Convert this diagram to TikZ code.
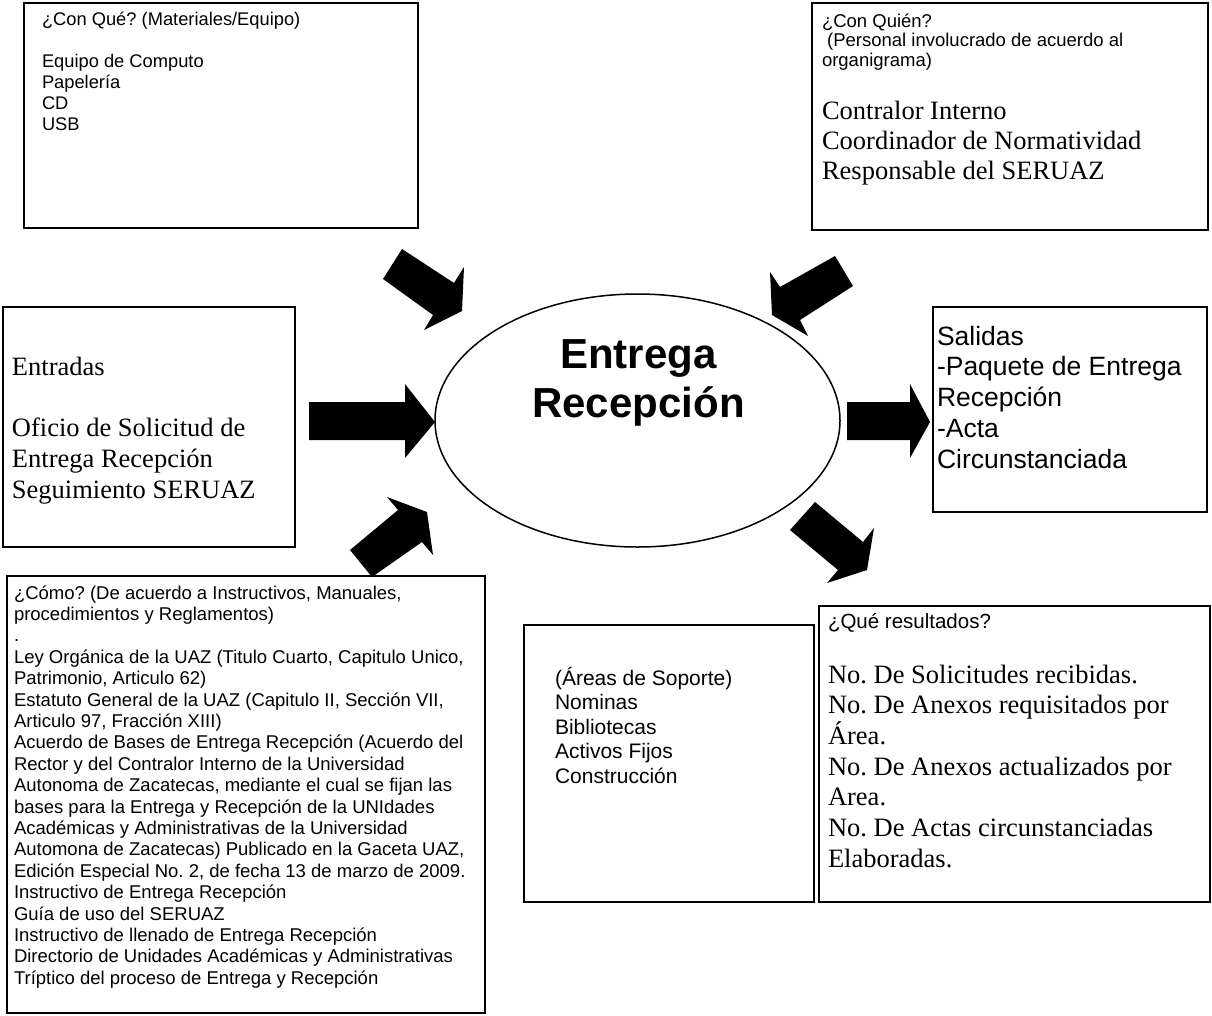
\documentclass[tikz,border=0pt]{standalone}
\usepackage{fontspec}
\setmainfont{Liberation Serif}
\newfontfamily\ari{Liberation Sans}
\newfontfamily\tnr{Liberation Serif}
\usetikzlibrary{shapes.geometric}
\frenchspacing
\newcommand{\setfs}[2]{\fontsize{#1pt}{#2pt}\selectfont}
\newcommand{\mylines}[1]{\vtop{\lineskiplimit=-\maxdimen\halign{##\hfil\cr#1\crcr}}}
\newcommand{\mycenter}[1]{\vtop{\lineskiplimit=-\maxdimen\halign{\hfil##\hfil\cr#1\crcr}}}
\tikzset{
  box/.style={draw, line width=2pt, rectangle, inner sep=0pt, outer sep=0pt},
  txt/.style={anchor=base west, inner sep=0pt, outer sep=0pt},
  blockarrow/.style={fill=black, draw=none}
}
\begin{document}
\begin{tikzpicture}[x=1pt,y=-1pt]
\useasboundingbox (0,0) rectangle (1212,1015);

% boxes
\node[box, minimum width=394pt, minimum height=225pt] (b1) at (221,115.5) {};
\node[box, minimum width=396pt, minimum height=227pt] (b2) at (1010,116.5) {};
\node[box, minimum width=292pt, minimum height=240pt] (b3) at (149,427) {};
\node[box, minimum width=274pt, minimum height=205pt] (b4) at (1070,409.5) {};
\node[box, minimum width=478pt, minimum height=437pt] (b5) at (246,794.5) {};
\node[box, minimum width=290pt, minimum height=277pt] (b6) at (669,763.5) {};
\node[box, minimum width=391pt, minimum height=296pt] (b7) at (1014.5,754) {};

% central ellipse
\node[draw, ellipse, line width=1.5pt, minimum width=405pt, minimum height=253pt, inner sep=0pt] (c) at (637.5,420.5) {};
\node[anchor=base, inner sep=0pt] (ct) at (638.5,368) {\ari\bfseries\setfs{42}{49}\mycenter{Entrega\cr Recepción}};

% texts
\node[txt] (t1) at (42,25.5) {\ari\setfs{18.3}{21}\mylines{¿Con Qué? (Materiales/Equipo)\cr\relax\cr
Equipo de Computo\cr Papelería\cr CD\cr USB}};

\node[txt] (t2) at (822,27) {\ari\setfs{18.5}{19.7}\mylines{¿Con Quién?\cr
\ (Personal involucrado de acuerdo al\cr organigrama)}};
\node[txt] (t2b) at (822,119) {\tnr\setfs{26.5}{30}\mylines{Contralor Interno\cr
Coordinador de Normatividad\cr Responsable del SERUAZ}};

\node[txt] (t3) at (12,375) {\tnr\setfs{26.5}{30.75}\mylines{Entradas\cr\relax\cr
Oficio de Solicitud de\cr Entrega Recepción\cr Seguimiento SERUAZ}};

\node[txt] (t4) at (937,345) {\ari\setfs{26.5}{30.75}\mylines{Salidas\cr
-Paquete de Entrega\cr Recepción\cr -Acta\cr Circunstanciada}};

\node[txt] (t5) at (14,599) {\ari\setfs{18.5}{21.4}\mylines{¿Cómo? (De acuerdo a Instructivos, Manuales,\cr
procedimientos y Reglamentos)\cr
.\cr
Ley Orgánica de la UAZ (Titulo Cuarto, Capitulo Unico,\cr
Patrimonio, Articulo 62)\cr
Estatuto General de la UAZ (Capitulo II, Sección VII,\cr
Articulo 97, Fracción XIII)\cr
Acuerdo de Bases de Entrega Recepción (Acuerdo del\cr
Rector y del Contralor Interno de la Universidad\cr
Autonoma de Zacatecas, mediante el cual se fijan las\cr
bases para la Entrega y Recepción de la UNIdades\cr
Académicas y Administrativas de la Universidad\cr
Automona de Zacatecas) Publicado en la Gaceta UAZ,\cr
Edición Especial No. 2, de fecha 13 de marzo de 2009.\cr
Instructivo de Entrega Recepción\cr
Guía de uso del SERUAZ\cr
Instructivo de llenado de Entrega Recepción\cr
Directorio de Unidades Académicas y Administrativas\cr
Tríptico del proceso de Entrega y Recepción}};

\node[txt] (t6) at (555,685) {\ari\setfs{21}{24.5}\mylines{(Áreas de Soporte)\cr
Nominas\cr Bibliotecas\cr Activos Fijos\cr Construcción}};

\node[txt] (t7) at (828,628) {\ari\setfs{20.5}{23}¿Qué resultados?};
\node[txt] (t7b) at (828,683) {\tnr\setfs{26.5}{30.7}\mylines{No. De Solicitudes recibidas.\cr
No. De Anexos requisitados por\cr Área.\cr
No. De Anexos actualizados por\cr Area.\cr
No. De Actas circunstanciadas\cr Elaboradas.}};

% block arrows
% from Entradas (left)
\fill[blockarrow] (309,402) -- (405,402) -- (405,384) -- (435,422) -- (405,458) -- (405,440) -- (309,440) -- cycle;
% to Salidas (right)
\fill[blockarrow] (847,402) -- (910,402) -- (910,384) -- (930,422) -- (910,458) -- (910,440) -- (847,440) -- cycle;
% from Con Que (upper left)
\fill[blockarrow] (383,279) -- (402,249) -- (454,283) -- (464,267) -- (462,311) -- (424,330) -- (433,315) -- cycle;
% from Con Quien (upper right)
\fill[blockarrow] (835,256) -- (853,286) -- (800,320) -- (808,336) -- (772,315) -- (770,272) -- (780,287) -- cycle;
% from Como (lower left)
\fill[blockarrow] (372,577) -- (350,550) -- (398,510) -- (387,497) -- (427,512) -- (433,555) -- (422,542) -- cycle;
% to resultados (lower right)
\fill[blockarrow] (790,530) -- (815,502) -- (863,542) -- (874,528) -- (867,570) -- (827,583) -- (838,570) -- cycle;
\end{tikzpicture}
\end{document}
